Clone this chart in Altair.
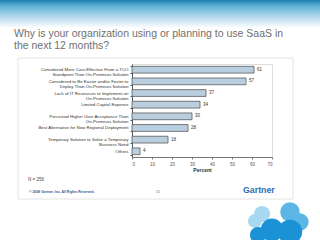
import altair as alt
import pandas as pd

categories = [
    "Considered More Cost-Effective From a TCO|Standpoint Than On-Premises Solution",
    "Considered to Be Easier and/or Faster to|Deploy Than On-Premises Solution",
    "Lack of IT Resources to Implement an|On-Premises Solution",
    "Limited Capital Expense",
    "Perceived Higher User Acceptance Than|On-Premises Solution",
    "Best Alternative for New Regional Deployment",
    "Temporary Solution to Solve a Temporary|Business Need",
    "Others",
]
percent = [61, 57, 37, 34, 30, 28, 18, 4]
x_ticks = [0, 10, 20, 30, 40, 50, 60, 70]

title_lines = ["Why is your organization using or planning to use SaaS in",
               "the next 12 months?"]
note_n = "N = 256"
copyright_text = "\u00a9 2008 Gartner, Inc. All Rights Reserved."
page_no = "15"
logo_text = "Gartner"

df = pd.DataFrame({"reason": categories, "pct": percent})
one = pd.DataFrame({"a": [0]})

FONT = "Liberation Sans"
PL, PT = 132, 64  # plot origin in page pixels

base = alt.Chart(df)

x_axis = alt.Axis(values=x_ticks, title="Percent", titleFontSize=5,
                  titleFontWeight="bold", titleFont=FONT, titleColor="#333",
                  titlePadding=2, labelFontSize=4.5, labelFont=FONT,
                  labelColor="#555", tickSize=2, tickColor="#777",
                  domainColor="#777", labelPadding=2, grid=False,
                  labelOverlap=False, labelBound=False)
y_axis = alt.Axis(labelExpr="split(datum.label, '|')", labelFontSize=4.4,
                  labelFont=FONT, labelColor="#333", labelLimit=200,
                  tickBand="extent", tickSize=2, tickColor="#555",
                  domainColor="#555", labelPadding=2, labelLineHeight=5,
                  labelOverlap=False)
x_scale = alt.Scale(domain=[0, 70], nice=False)
y_scale = alt.Scale(paddingInner=0.42, paddingOuter=0.2)

bars = base.mark_bar(fill="#b9cfe0", stroke="#5a5a5a", strokeWidth=0.8).encode(
    x=alt.X("pct:Q", scale=x_scale, axis=x_axis),
    y=alt.Y("reason:N", sort=categories, title=None, scale=y_scale, axis=y_axis),
)

values = base.mark_text(align="left", baseline="middle", dx=3, fontSize=4.5,
                        font=FONT, color="#333").encode(
    x=alt.X("pct:Q", scale=x_scale, axis=x_axis),
    y=alt.Y("reason:N", sort=categories, title=None, scale=y_scale, axis=y_axis),
    text="pct:Q")

def page_text(txt, x, y, **kw):
    return alt.Chart(one).mark_text(font=FONT, align="left", baseline="alphabetic", **kw).encode(
        x=alt.value(x - PL), y=alt.value(y - PT), text=alt.value(txt))

banner = alt.Chart(one).mark_rect(
    fill=alt.Gradient(gradient="linear",
                      stops=[alt.GradientStop(color="#1f7fae", offset=0),
                             alt.GradientStop(color="#5aaed4", offset=0.2),
                             alt.GradientStop(color="#a9d4ea", offset=0.55),
                             alt.GradientStop(color="#ffffff", offset=1)],
                      x1=0, x2=0, y1=0, y2=1)).encode(
    x=alt.value(-PL), x2=alt.value(320 - PL), y=alt.value(-PT), y2=alt.value(28 - PT))

box = alt.Chart(one).mark_rect(fill=None, stroke="#e4e4e4", strokeWidth=1).encode(
    x=alt.value(18 - PL), x2=alt.value(293 - PL), y=alt.value(58 - PT), y2=alt.value(199 - PT))

title = page_text(title_lines, 14, 37, fontSize=10.5, color="#707070", lineHeight=11.7)
ntext = page_text(note_n, 28, 181, fontSize=4.5, color="#444")
copy = page_text(copyright_text, 29, 193, fontSize=3.4, color="#2b5a9a", fontWeight="bold")
pnum = page_text(page_no, 156, 193, fontSize=3.4, color="#666")
logo = page_text(logo_text, 243, 193, fontSize=8.8, color="#2f6db3", fontWeight="bold")

clouds = []
for cx, cy, s, c in [(262, 214, 260, "#a9d9f2"), (255, 221, 200, "#a9d9f2"),
                     (290, 212, 380, "#5cb6e5"), (300, 222, 300, "#5cb6e5"),
                     (272, 230, 520, "#1b92d6"), (290, 232, 600, "#1b92d6"),
                     (258, 235, 260, "#1b92d6")]:
    clouds.append(alt.Chart(one).mark_circle(opacity=1, color=c, size=s).encode(
        x=alt.value(cx - PL), y=alt.value(cy - PT)))

chart = alt.layer(banner, box, bars, values, title, ntext, copy, pnum, logo, *clouds).properties(
    width=140, height=93,
    autosize=alt.AutoSizeParams(type="none"),
    padding={"left": PL, "top": PT, "right": 320 - PL - 140, "bottom": 240 - PT - 93},
).configure_view(stroke=None).configure(background="white").configure_axis(labelOverlap=False)

chart.save("out.html", embed_options={"renderer": "svg", "actions": False})
